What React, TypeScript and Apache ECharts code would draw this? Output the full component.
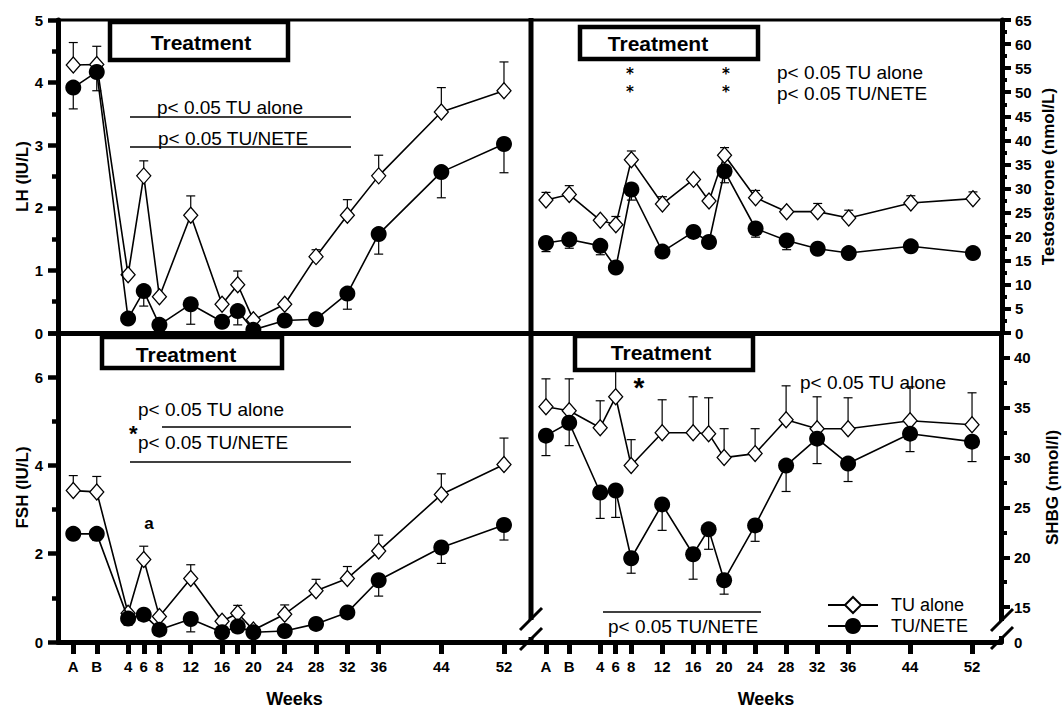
import React, { useEffect, useRef } from 'react';
import * as echarts from 'echarts';

// ---------- DATA ----------
const weeks = [-3, 0, 4, 6, 8, 12, 16, 18, 20, 24, 28, 32, 36, 44, 52];
const weekTickValues = [-3, 0, 4, 6, 8, 12, 16, 18, 20, 24, 28, 32, 36, 44, 52];
const weekLabelValues = [-3, 0, 4, 6, 8, 12, 16, 20, 24, 28, 32, 36, 44, 52];
const weekLabelNames: Record<string, string> = { '-3': 'A', '0': 'B' };

const lhAlone = [4.28, 4.29, 0.93, 2.51, 0.58, 1.88, 0.46, 0.77, 0.21, 0.46, 1.22, 1.88, 2.51, 3.53, 3.87];
const lhAloneUpper = [4.64, 4.58, null, 2.75, null, 2.19, null, 0.99, null, null, 1.33, 2.13, 2.84, 3.92, 4.33];
const lhNete = [3.92, 4.17, 0.23, 0.67, 0.13, 0.46, 0.18, 0.35, 0.05, 0.2, 0.22, 0.63, 1.58, 2.57, 3.02];
const lhNeteLower = [3.58, 3.87, null, 0.43, null, 0.14, null, 0.13, null, null, null, 0.38, 1.26, 2.16, 2.56];

const tAlone = [27.6, 28.75, 23.4, 22.5, 36.0, 26.8, 31.9, 27.4, 36.9, 28.1, 25.2, 25.2, 23.9, 27.0, 27.9];
const tAloneUpper = [29.2, 30.6, null, 24.2, 37.8, 28.3, null, null, 38.5, 29.6, null, 26.9, 25.5, 28.5, 29.3];
const tNete = [18.7, 19.4, 18.1, 13.6, 29.8, 16.9, 21.0, 18.9, 33.6, 21.7, 19.2, 17.5, 16.6, 18.0, 16.6];
const tNeteLower = [16.9, 17.6, 16.25, null, 27.6, null, null, null, 31.2, 19.9, 17.3, null, null, null, null];

const fshAlone = [3.43, 3.40, 0.65, 1.87, 0.58, 1.44, 0.47, 0.65, 0.27, 0.63, 1.16, 1.44, 2.06, 3.34, 4.02];
const fshAloneUpper = [3.77, 3.75, null, 2.17, null, 1.75, null, 0.83, null, 0.84, 1.42, 1.71, 2.42, 3.81, 4.62];
const fshNete = [2.45, 2.45, 0.53, 0.62, 0.28, 0.52, 0.22, 0.35, 0.22, 0.25, 0.41, 0.67, 1.40, 2.14, 2.65];
const fshNeteLower = [null, 2.3, 0.38, null, null, 0.23, null, null, null, null, null, null, 1.04, 1.78, 2.31];

const shbgAlone = [35.1, 34.7, 33.0, 36.1, 29.2, 32.5, 32.5, 32.4, 30.0, 30.4, 33.8, 32.9, 32.9, 33.7, 33.3];
const shbgAloneUpper = [37.9, 37.9, 35.7, 39.0, 31.8, 35.8, 36.1, 36.0, 32.9, 32.9, 37.2, 36.1, 36.0, 37.1, 36.5];
const shbgNete = [32.2, 33.5, 26.5, 26.7, 19.9, 25.3, 20.3, 22.8, 17.7, 23.2, 29.2, 31.9, 29.4, 32.4, 31.6];
const shbgNeteLower = [30.2, 31.2, 23.9, 24.0, 18.4, 22.7, 17.8, 20.8, 16.3, 21.6, 26.6, 29.4, 27.6, 30.6, 29.6];

const shbgLabelValues = [11.5, 15, 20, 25, 30, 35, 40];
const shbgMajorTicks = [15, 20, 25, 30, 35, 40];
const shbgMinorTicks = [17.5, 22.5, 27.5, 32.5, 37.5];

const seriesNames = ['TU alone', 'TU/NETE'];

// ---------- STYLE ----------
const FF = "'Liberation Sans', Arial, Helvetica, sans-serif";
const FF_STAR = "'DejaVu Sans', 'Liberation Sans', sans-serif";
const BLACK = '#000';

function lineSeries(name: string, vals: number[], idx: number, alone: boolean) {
  return {
    type: 'line',
    name,
    xAxisIndex: idx,
    yAxisIndex: idx,
    data: weeks.map((w, i) => [w, vals[i]]),
    symbol: alone ? 'diamond' : 'circle',
    symbolSize: alone ? [14, 16] : 16,
    itemStyle: alone
      ? { color: '#fff', borderColor: BLACK, borderWidth: 1.3 }
      : { color: BLACK, borderColor: BLACK, borderWidth: 0 },
    lineStyle: { color: BLACK, width: 1.6 },
    z: alone ? 3 : 4,
    silent: true,
  };
}

function errSeries(vals: number[], ends: (number | null)[], idx: number) {
  return {
    type: 'custom',
    coordinateSystem: 'cartesian2d',
    xAxisIndex: idx,
    yAxisIndex: idx,
    data: weeks
      .map((w, i) => (ends[i] == null ? null : [w, vals[i], ends[i]]))
      .filter((d) => d !== null),
    encode: { x: 0, y: [1, 2] },
    z: 2,
    silent: true,
    renderItem: (params: any, api: any) => {
      const x = api.value(0);
      const p0 = api.coord([x, api.value(1)]);
      const p1 = api.coord([x, api.value(2)]);
      return {
        type: 'group',
        children: [
          { type: 'line', shape: { x1: p0[0], y1: p0[1], x2: p1[0], y2: p1[1] }, style: { stroke: BLACK, lineWidth: 1.2 } },
          { type: 'line', shape: { x1: p1[0] - 4.5, y1: p1[1], x2: p1[0] + 4.5, y2: p1[1] }, style: { stroke: BLACK, lineWidth: 1.2 } },
        ],
      };
    },
  };
}

const axisLineStyle = { show: true, onZero: false, lineStyle: { color: BLACK, width: 5 } };
const labelStyle = { color: BLACK, fontFamily: FF, fontWeight: 'bold' as const, fontSize: 15 };
const nameStyle = { color: BLACK, fontFamily: FF, fontWeight: 'bold' as const, fontSize: 17 };

function topX(idx: number, min: number, max: number) {
  return {
    type: 'value', gridIndex: idx, min, max,
    axisLine: axisLineStyle, axisTick: { show: false }, axisLabel: { show: false }, splitLine: { show: false },
  };
}
function bottomX(idx: number, min: number, max: number) {
  return {
    type: 'value', gridIndex: idx, min, max,
    axisLine: axisLineStyle,
    axisTick: { show: true, customValues: weekTickValues, length: 12, lineStyle: { color: BLACK, width: 5 } },
    axisLabel: {
      show: true, customValues: weekLabelValues, margin: 17, ...labelStyle,
      formatter: (v: number) => weekLabelNames[String(v)] ?? String(v),
    },
    splitLine: { show: false },
    name: 'Weeks', nameLocation: 'middle', nameGap: 48, nameTextStyle: { ...nameStyle, fontSize: 18 },
  };
}

function txt(x: number, y: number, text: string, size: number, bold = false, align = 'left', family = FF) {
  return {
    type: 'text', x, y, z: 110, silent: true,
    style: {
      text, fontSize: size, fontFamily: family, fontWeight: bold ? 'bold' : 'normal', fill: BLACK, align, verticalAlign: 'middle',
    },
  };
}
function ln(x1: number, y1: number, x2: number, y2: number, w = 1.5) {
  return { type: 'line', z: 110, silent: true, shape: { x1, y1, x2, y2 }, style: { stroke: BLACK, lineWidth: w } };
}
function box(x: number, y: number, w: number, h: number, tx: number, ty: number) {
  return [
    { type: 'rect', z: 105, silent: true, shape: { x, y, width: w, height: h }, style: { fill: '#fff', stroke: BLACK, lineWidth: 4.5 } },
    txt(tx, ty, 'Treatment', 21, true, 'center'),
  ];
}

export default function App() {
  const ref = useRef<HTMLDivElement>(null);
  useEffect(() => {
    if (!ref.current) return;
    const chart = echarts.init(ref.current, null, { renderer: 'svg' });
    const option: any = {
      animation: false,
      backgroundColor: '#fff',
      grid: [
        { left: 58, top: 20, width: 473, height: 313 },
        { left: 531, top: 20, width: 471, height: 313 },
        { left: 58, top: 333, width: 473, height: 310 },
        { left: 531, top: 333, width: 471, height: 310 },
      ],
      xAxis: [
        topX(0, -4.95, 55.45),
        topX(1, -4.93, 55.74),
        bottomX(2, -4.95, 55.45),
        bottomX(3, -4.93, 55.74),
      ],
      yAxis: [
        {
          type: 'value', gridIndex: 0, min: 0, max: 5, interval: 1, position: 'left',
          axisLine: axisLineStyle,
          axisTick: { show: true, length: 10, lineStyle: { color: BLACK, width: 4.5 } },
          minorTick: { show: true, splitNumber: 2, length: 6, lineStyle: { color: BLACK, width: 4.5 } },
          axisLabel: { ...labelStyle, margin: 15 },
          splitLine: { show: false }, minorSplitLine: { show: false },
          name: 'LH (IU/L)', nameLocation: 'middle', nameRotate: 90, nameGap: 21, nameTextStyle: nameStyle,
        },
        {
          type: 'value', gridIndex: 1, min: 0, max: 65, interval: 5, position: 'right',
          axisLine: axisLineStyle,
          axisTick: { show: true, length: 9, lineStyle: { color: BLACK, width: 4 } },
          minorTick: { show: true, splitNumber: 2, length: 5, lineStyle: { color: BLACK, width: 4 } },
          axisLabel: { ...labelStyle, margin: 13 },
          splitLine: { show: false }, minorSplitLine: { show: false },
          name: 'Testosterone (nmol/L)', nameLocation: 'middle', nameRotate: 90, nameGap: 38, nameTextStyle: nameStyle,
        },
        {
          type: 'value', gridIndex: 2, min: 0, max: 7, interval: 2, position: 'left',
          axisLine: axisLineStyle,
          axisTick: { show: true, length: 10, lineStyle: { color: BLACK, width: 4.5 } },
          minorTick: { show: true, splitNumber: 2, length: 6, lineStyle: { color: BLACK, width: 4.5 } },
          axisLabel: { ...labelStyle, margin: 15, showMaxLabel: false },
          splitLine: { show: false }, minorSplitLine: { show: false },
          name: 'FSH (IU/L)', nameLocation: 'middle', nameRotate: 90, nameGap: 24, nameTextStyle: nameStyle,
        },
        {
          type: 'value', gridIndex: 3, min: 11.5, max: 42.5, position: 'right',
          axisLine: axisLineStyle,
          axisTick: { show: true, customValues: shbgMajorTicks, length: 9, lineStyle: { color: BLACK, width: 4 } },
          axisLabel: {
            ...labelStyle, margin: 13, customValues: shbgLabelValues,
            formatter: (v: number) => (v === 11.5 ? '0' : String(v)),
          },
          splitLine: { show: false },
          name: 'SHBG (nmol/l)', nameLocation: 'middle', nameRotate: 90, nameGap: 43, nameTextStyle: nameStyle,
        },
        {
          type: 'value', gridIndex: 3, min: 11.5, max: 42.5, position: 'right',
          axisLine: { show: false, onZero: false },
          axisTick: { show: true, customValues: shbgMinorTicks, length: 6, lineStyle: { color: BLACK, width: 4 } },
          axisLabel: { show: false },
          splitLine: { show: false },
        },
      ],
      legend: {
        data: seriesNames,
        orient: 'vertical',
        left: 822,
        top: 591,
        itemWidth: 50,
        itemHeight: 20,
        itemGap: 3,
        selectedMode: false,
        textStyle: { color: BLACK, fontFamily: FF, fontSize: 18, padding: [0, 0, 0, 8] },
      },
      series: [
        errSeries(lhAlone, lhAloneUpper, 0),
        errSeries(lhNete, lhNeteLower, 0),
        lineSeries(seriesNames[0], lhAlone, 0, true),
        lineSeries(seriesNames[1], lhNete, 0, false),
        errSeries(tAlone, tAloneUpper, 1),
        errSeries(tNete, tNeteLower, 1),
        lineSeries(seriesNames[0], tAlone, 1, true),
        lineSeries(seriesNames[1], tNete, 1, false),
        errSeries(fshAlone, fshAloneUpper, 2),
        errSeries(fshNete, fshNeteLower, 2),
        lineSeries(seriesNames[0], fshAlone, 2, true),
        lineSeries(seriesNames[1], fshNete, 2, false),
        errSeries(shbgAlone, shbgAloneUpper, 3),
        errSeries(shbgNete, shbgNeteLower, 3),
        lineSeries(seriesNames[0], shbgAlone, 3, true),
        lineSeries(seriesNames[1], shbgNete, 3, false),
      ],
      graphic: [
        // frame: top border and divider with break
        ln(56, 20, 1004, 20, 3),
        ln(531, 18, 531, 620, 5),
        ln(531, 637, 531, 645, 5),
        // right axis break mask + slashes
        { type: 'rect', z: 108, silent: true, shape: { x: 997, y: 621, width: 12, height: 15 }, style: { fill: '#fff' } },
        ln(520, 630, 542, 608, 3),
        ln(520, 650, 542, 628, 3),
        ln(991, 631, 1013, 609, 3),
        ln(991, 649, 1013, 627, 3),
        // Treatment boxes
        ...box(110, 22, 178, 38, 201, 42),
        ...box(580, 27, 178, 32, 658, 43),
        ...box(102, 337, 180, 31, 186, 354),
        ...box(575, 336, 178, 34, 661, 352),
        // top-left annotations
        txt(157, 107, 'p< 0.05 TU alone', 19),
        ln(130, 117, 351, 117),
        txt(158, 138, 'p< 0.05 TU/NETE', 19),
        ln(130, 147, 351, 147),
        // top-right annotations
        txt(630, 73.5, '*', 15, true, 'center', FF_STAR),
        txt(630, 91.5, '*', 15, true, 'center', FF_STAR),
        txt(726, 73.5, '*', 15, true, 'center', FF_STAR),
        txt(726, 91.5, '*', 15, true, 'center', FF_STAR),
        txt(777, 72, 'p< 0.05 TU alone', 19),
        txt(777, 93, 'p< 0.05 TU/NETE', 19),
        // bottom-left annotations
        txt(138, 409, 'p< 0.05 TU alone', 19),
        txt(137.5, 433, '*', 22, true, 'right'),
        ln(162, 427, 351, 427),
        txt(138, 442, 'p< 0.05 TU/NETE', 19),
        ln(130, 462, 351, 462),
        txt(149, 523, 'a', 17, true, 'center'),
        // bottom-right annotations
        txt(639, 387, '*', 28, true, 'center'),
        txt(800, 382, 'p< 0.05 TU alone', 19),
        ln(603, 612, 761, 612),
        txt(608, 626, 'p< 0.05 TU/NETE', 19),
      ],
    };
    chart.setOption(option);
    return () => chart.dispose();
  }, []);
  return (
    <div
      ref={ref}
      style={{ position: 'fixed', left: 0, top: 0, width: 1062, height: 709, background: '#fff' }}
    />
  );
}
